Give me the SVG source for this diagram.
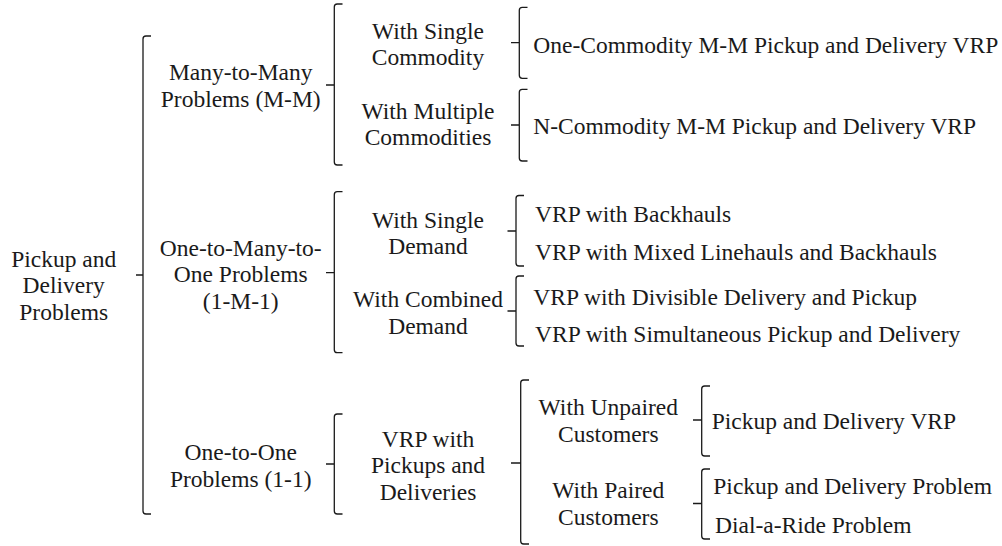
<svg xmlns="http://www.w3.org/2000/svg" width="1002" height="546" viewBox="0 0 1002 546">
<style>
text{font-family:"Liberation Serif","Times New Roman",serif;font-size:23.5px;fill:#1a1a1a}
.c{text-anchor:middle}
.l{text-anchor:start}
.br{fill:none;stroke:#1a1a1a;stroke-width:1.3;stroke-linecap:butt;stroke-linejoin:round}
</style>
<rect width="1002" height="546" fill="#fff"/>
<g id="connectors">
<path class="br" d="M151,36 H146 Q143,36 143,39 V511 Q143,514 146,514 H151 M143,275 H136"/>
<path class="br" d="M342.5,4 H337.3 Q334.3,4 334.3,7 V162 Q334.3,165 337.3,165 H342.5 M334.3,85 H326"/>
<path class="br" d="M342.5,191.7 H337.3 Q334.3,191.7 334.3,194.7 V349.7 Q334.3,352.7 337.3,352.7 H342.5 M334.3,272.7 H326"/>
<path class="br" d="M342.5,414 H337.3 Q334.3,414 334.3,417 V511 Q334.3,514 337.3,514 H342.5 M334.3,464 H326"/>
<path class="br" d="M527.5,7.3 H522.3 Q519.3,7.3 519.3,10.3 V75.3 Q519.3,78.3 522.3,78.3 H527.5 M519.3,42.7 H511"/>
<path class="br" d="M527.5,89.3 H522.3 Q519.3,89.3 519.3,92.3 V158 Q519.3,161 522.3,161 H527.5 M519.3,125 H511"/>
<path class="br" d="M524,195.5 H519 Q516,195.5 516,198.5 V263 Q516,266 519,266 H524 M516,231 H507.5"/>
<path class="br" d="M524,276 H519 Q516,276 516,279 V343 Q516,346 519,346 H524 M516,311 H507.5"/>
<path class="br" d="M529,380 H523.7 Q520.7,380 520.7,383 V541 Q520.7,544 523.7,544 H529 M520.7,463 H511"/>
<path class="br" d="M710,386 H704.7 Q701.7,386 701.7,389 V453 Q701.7,456 704.7,456 H710 M701.7,420 H693"/>
<path class="br" d="M710,469 H704.7 Q701.7,469 701.7,472 V536 Q701.7,539 704.7,539 H710 M701.7,503.5 H693"/>
</g>
<g id="root"><text class="c" x="63.7" y="266.7">Pickup and</text><text class="c" x="63.7" y="293.3">Delivery</text><text class="c" x="63.7" y="320">Problems</text></g>
<g id="mm"><text class="c" x="240.7" y="80">Many-to-Many</text><text class="c" x="240.7" y="106.7">Problems (M-M)</text></g>
<g id="om1"><text class="c" x="240.7" y="255.7">One-to-Many-to-</text><text class="c" x="240.7" y="282.3">One Problems</text><text class="c" x="240.7" y="309">(1-M-1)</text></g>
<g id="oo"><text class="c" x="240.7" y="460">One-to-One</text><text class="c" x="240.7" y="486.5">Problems (1-1)</text></g>
<g id="mm-single"><text class="c" x="428" y="38.5">With Single</text><text class="c" x="428" y="65.2">Commodity</text></g>
<g id="mm-multi"><text class="c" x="428" y="118.5">With Multiple</text><text class="c" x="428" y="145.2">Commodities</text></g>
<g id="om1-single"><text class="c" x="428" y="227.5">With Single</text><text class="c" x="428" y="254">Demand</text></g>
<g id="om1-comb"><text class="c" x="428" y="307.2">With Combined</text><text class="c" x="428" y="334">Demand</text></g>
<g id="oo-vrp"><text class="c" x="428" y="446.7">VRP with</text><text class="c" x="428" y="473.3">Pickups and</text><text class="c" x="428" y="500">Deliveries</text></g>
<g id="oo-unpaired"><text class="c" x="608.3" y="415">With Unpaired</text><text class="c" x="608.3" y="441.7">Customers</text></g>
<g id="oo-paired"><text class="c" x="608.3" y="498.3">With Paired</text><text class="c" x="608.3" y="525">Customers</text></g>
<g id="leaf-1c"><text class="l" x="533.3" y="53">One-Commodity M-M Pickup and Delivery VRP</text></g>
<g id="leaf-nc"><text class="l" x="533.3" y="134">N-Commodity M-M Pickup and Delivery VRP</text></g>
<g id="leaf-vrpb"><text class="l" x="535" y="222.3">VRP with Backhauls</text></g>
<g id="leaf-mixed"><text class="l" x="535" y="260">VRP with Mixed Linehauls and Backhauls</text></g>
<g id="leaf-div"><text class="l" x="533.3" y="305">VRP with Divisible Delivery and Pickup</text></g>
<g id="leaf-sim"><text class="l" x="535" y="341.7">VRP with Simultaneous Pickup and Delivery</text></g>
<g id="leaf-pdvrp"><text class="l" x="711.7" y="429.3">Pickup and Delivery VRP</text></g>
<g id="leaf-pdp"><text class="l" x="713.3" y="494.3">Pickup and Delivery Problem</text></g>
<g id="leaf-dar"><text class="l" x="715" y="532.7">Dial-a-Ride Problem</text></g>
</svg>
